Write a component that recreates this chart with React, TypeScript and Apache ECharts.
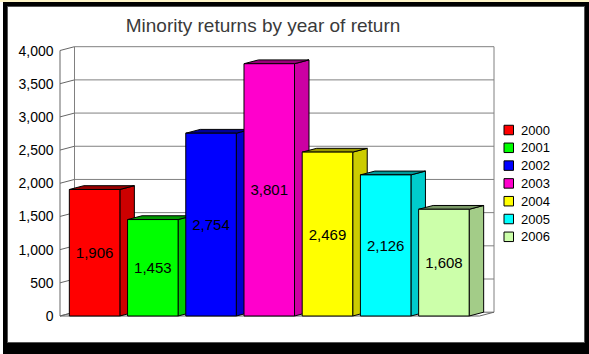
import React, { useEffect, useRef } from "react";
import * as echarts from "echarts";

// ---- data ----
const years = ["2000", "2001", "2002", "2003", "2004", "2005", "2006"];
const returns = [1906, 1453, 2754, 3801, 2469, 2126, 1608];
const yTickValues = [0, 500, 1000, 1500, 2000, 2500, 3000, 3500, 4000];
const titleText = "Minority returns by year of return";

// ---- palette ----
const frontColors = ["#FF0000", "#00FF00", "#0000FF", "#FF00CC", "#FFFF00", "#00FFFF", "#CCFFAA"];
const sideColors = ["#CC0000", "#00CC00", "#0000CC", "#CC00A3", "#CCCC00", "#00CCCC", "#A3CC88"];
const topColors = ["#990000", "#009900", "#000099", "#99007A", "#999900", "#009999", "#7A9966"];

const FONT = "'Liberation Sans', Arial, sans-serif";
const DX = 14.5;
const DY = -3.8;
const fmt = (v: number) => v.toLocaleString("en-US");

export default function App() {
  const ref = useRef<HTMLDivElement | null>(null);

  useEffect(() => {
    if (!ref.current) return;
    const chart = echarts.init(ref.current, undefined, { renderer: "svg" });

    const wallSeries: any = {
      type: "custom",
      name: "walls",
      silent: true,
      z: 1,
      data: yTickValues.map((v) => [0, v]),
      renderItem: (params: any, api: any) => {
        const cs = params.coordSys;
        const v = api.value(1);
        const y = api.coord([0, v])[1];
        const fx = cs.x - 5.5;
        const frx = cs.x + cs.width + 6.5;
        const gray = "#808080";
        const children: any[] = [];
        if (params.dataIndex === 0) {
          const yTop = cs.y;
          const yBot = cs.y + cs.height;
          children.push({
            type: "polygon",
            shape: { points: [[fx, yBot], [frx, yBot], [frx + DX, yBot + DY], [fx + DX, yBot + DY]] },
            style: { fill: "#ffffff", stroke: "#666666", lineWidth: 1 },
          });
          children.push({
            type: "line",
            shape: { x1: fx, y1: yTop, x2: fx, y2: yBot },
            style: { stroke: "#666666", lineWidth: 1 },
          });
          children.push({
            type: "line",
            shape: { x1: fx + DX, y1: yTop + DY, x2: fx + DX, y2: yBot + DY },
            style: { stroke: gray, lineWidth: 1 },
          });
          children.push({
            type: "line",
            shape: { x1: frx + DX, y1: yTop + DY, x2: frx + DX, y2: yBot + DY },
            style: { stroke: gray, lineWidth: 1 },
          });
        }
        children.push({
          type: "line",
          shape: { x1: fx, y1: y, x2: fx + DX, y2: y + DY },
          style: { stroke: "#666666", lineWidth: 1 },
        });
        if (v !== 0) {
          children.push({
            type: "line",
            shape: { x1: fx + DX, y1: y + DY, x2: frx + DX, y2: y + DY },
            style: { stroke: gray, lineWidth: 1 },
          });
        }
        return { type: "group", children };
      },
    };

    const barSeries: any[] = years.map((yr, i) => ({
      type: "custom",
      name: yr,
      z: 2 + i,
      data: [[i, returns[i]]],
      itemStyle: { color: frontColors[i], borderColor: "#000", borderWidth: 1 },
      renderItem: (params: any, api: any) => {
        const idx = api.value(0);
        const val = api.value(1);
        const top = api.coord([idx, val]);
        const base = api.coord([idx, 0]);
        const bw = api.size([1, 0])[0] * 0.868;
        const x0 = top[0] - bw / 2;
        const x1 = top[0] + bw / 2;
        const yT = top[1];
        const yB = base[1];
        const stroke = { stroke: "#000", lineWidth: 1 };
        return {
          type: "group",
          children: [
            {
              type: "polygon",
              shape: { points: [[x1, yB], [x1 + DX, yB + DY], [x1 + DX, yT + DY], [x1, yT]] },
              style: { fill: sideColors[i], ...stroke },
            },
            {
              type: "polygon",
              shape: { points: [[x0, yT], [x0 + DX, yT + DY], [x1 + DX, yT + DY], [x1, yT]] },
              style: { fill: topColors[i], ...stroke },
            },
            {
              type: "rect",
              shape: { x: x0, y: yT, width: bw, height: yB - yT },
              style: { fill: frontColors[i], ...stroke },
            },
            {
              type: "text",
              x: (x0 + x1) / 2,
              y: (yT + yB) / 2,
              style: {
                text: fmt(val),
                fill: "#000",
                font: `15px ${FONT}`,
                align: "center",
                verticalAlign: "middle",
              },
            },
          ],
        };
      },
    }));

    chart.setOption({
      animation: false,
      backgroundColor: "transparent",
      graphic: [
        { type: "rect", z: 0, shape: { x: 0, y: 0, width: 589, height: 2 }, style: { fill: "#FFF6C8" } },
        { type: "rect", z: 0, shape: { x: 3, y: 2, width: 586, height: 352 }, style: { fill: "#000" } },
        {
          type: "rect",
          z: 0,
          shape: { x: 7.5, y: 6.5, width: 577, height: 336 },
          style: { fill: "#fff", stroke: "#555", lineWidth: 1 },
        },
        {
          type: "text",
          z: 100,
          x: 263,
          y: 25,
          style: {
            text: titleText,
            font: `19px ${FONT}`,
            fill: "#3a3a3a",
            align: "center",
            verticalAlign: "middle",
          },
        },
      ],
      grid: { left: 65.5, right: 116, top: 50.5, bottom: 38, containLabel: false },
      xAxis: {
        type: "category",
        data: years,
        show: false,
      },
      yAxis: {
        type: "value",
        min: 0,
        max: 4000,
        interval: 500,
        axisLine: { show: false },
        axisTick: { show: false },
        splitLine: { show: false },
        axisLabel: { margin: 12, fontSize: 14, color: "#000", fontFamily: FONT, formatter: (v: number) => fmt(v) },
      },
      legend: {
        data: years,
        orient: "vertical",
        left: 503.5,
        top: 123.5,
        padding: 0,
        itemWidth: 9.5,
        itemHeight: 9.5,
        itemGap: 4.8,
        icon: "rect",
        selectedMode: false,
        itemStyle: { borderColor: "#000", borderWidth: 1 },
        textStyle: { fontSize: 13, lineHeight: 13, color: "#000", fontFamily: FONT, padding: [0, 0, 0, 2.5] },
      },
      series: [wallSeries, ...barSeries],
    });

    return () => chart.dispose();
  }, []);

  return (
    <div style={{ position: "fixed", left: 0, top: 0, width: 589, height: 354, background: "#fff" }}>
      <div ref={ref} style={{ width: 589, height: 354 }} />
    </div>
  );
}
